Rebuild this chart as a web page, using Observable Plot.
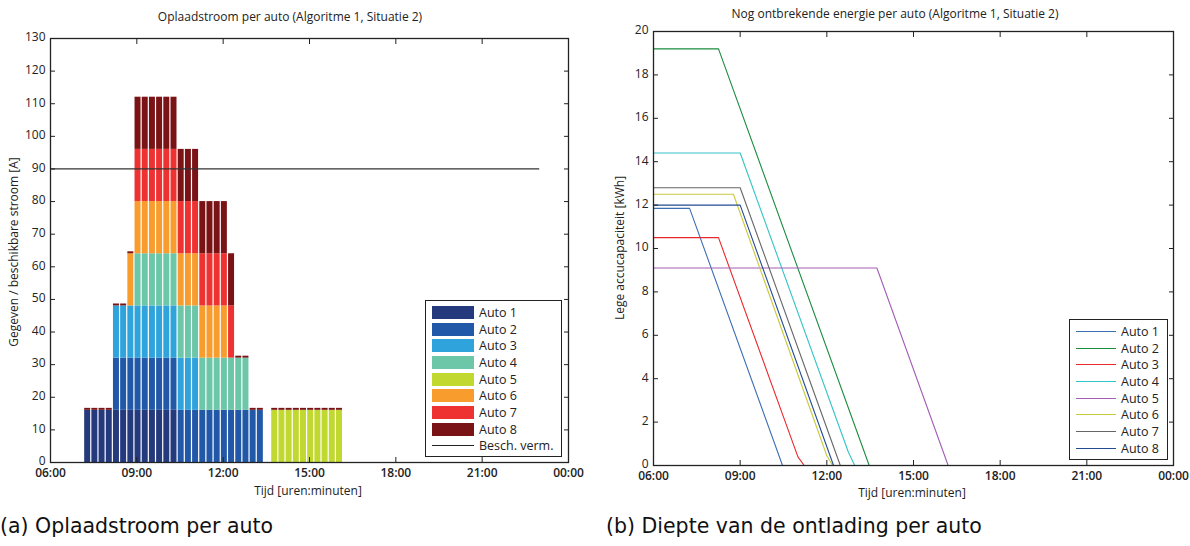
<!DOCTYPE html>
<html><head><meta charset="utf-8">
<script src="https://cdn.jsdelivr.net/npm/d3@7"></script>
<script src="https://cdn.jsdelivr.net/npm/@observablehq/plot@0.6"></script>
<style>
body{margin:0;background:#fff;width:1190px;height:546px;position:relative;overflow:hidden;font-family:"Open Sans",sans-serif;color:#222}
.abs{position:absolute}
.title{font-size:12px;white-space:nowrap;transform:translateX(-50%)}
.xlab{font-size:12px;white-space:nowrap;transform:translateX(-50%)}
.ylab{font-size:12px;white-space:nowrap;transform:translate(-50%,-50%) rotate(-90deg)}
.cap{font-family:"DejaVu Sans",sans-serif;font-size:20.5px;white-space:nowrap;color:#111}
.legend{border:1.5px solid #222;background:#fff;font-size:12.5px;padding:3px 6px 2px 6px}
.row{display:flex;align-items:center;height:16.7px}
.sw{width:42px;height:13px;margin-right:5px}
.ln{width:40px;height:0;margin-right:5px}
</style></head><body>
<div id="left" class="abs" style="left:0;top:0"></div>
<div id="right" class="abs" style="left:595px;top:0"></div>
<div class="abs title" style="left:290px;top:8px">Oplaadstroom per auto (Algoritme 1, Situatie 2)</div>
<div class="abs title" style="left:895px;top:5px">Nog ontbrekende energie per auto (Algoritme 1, Situatie 2)</div>
<div class="abs xlab" style="left:308px;top:482px">Tijd [uren:minuten]</div>
<div class="abs xlab" style="left:912px;top:484px">Tijd [uren:minuten]</div>
<div class="abs ylab" style="left:13px;top:252px">Gegeven / beschikbare stroom [A]</div>
<div class="abs ylab" style="left:619px;top:248px">Lege accucapaciteit [kWh]</div>
<div class="abs cap" style="left:0px;top:514px">(a) Oplaadstroom per auto</div>
<div class="abs cap" style="left:606px;top:514px">(b) Diepte van de ontlading per auto</div>
<div id="legL" class="abs legend" style="left:425px;top:300px;width:123px"></div>
<div id="legR" class="abs legend" style="left:1069px;top:319px;width:85px"></div>
<script>
// ---------- data ----------
const autos = ["Auto 1","Auto 2","Auto 3","Auto 4","Auto 5","Auto 6","Auto 7","Auto 8"];
const barColors = ["#253a7d","#2258a8","#2fa3dc","#6cc6a8","#c0d82f","#f89c2e","#ee3131","#7a1315"];
const lineColors = ["#3c6eb4","#1b8c3f","#e8282a","#35c4c6","#a35db6","#c9c93c","#666666","#234b92"];
const xTickLabels = ["06:00","09:00","12:00","15:00","18:00","21:00","00:00"];
const yTicksLeft = [0,10,20,30,40,50,60,70,80,90,100,110,120,130];
const yTicksRight = [0,2,4,6,8,10,12,14,16,18,20];
const slotMinutes = 15;
const slotStarts = ["07:10","07:25","07:40","07:55","08:10","08:25","08:40","08:55","09:10","09:25","09:40","09:55",
  "10:10","10:25","10:40","10:55","11:10","11:25","11:40","11:55","12:10","12:25","12:40","12:55",
  "13:10","13:25","13:40","13:55","14:10","14:25","14:40","14:55","15:10","15:25","15:40","15:55"];
const currentAuto1 = [16,16,16,16,16,16,16,16,16,16,16,16,16,0,0,0,0,0,0,0,0,0,0,0,0,0,0,0,0,0,0,0,0,0,0,0];
const currentAuto2 = [0,0,0,0,16,16,16,16,16,16,16,16,16,16,16,16,16,16,16,16,16,16,16,16,16,0,0,0,0,0,0,0,0,0,0,0];
const currentAuto3 = [0,0,0,0,16,16,16,16,16,16,16,16,16,16,16,16,0,0,0,0,0,0,0,0,0,0,0,0,0,0,0,0,0,0,0,0];
const currentAuto4 = [0,0,0,0,0,0,0,16,16,16,16,16,16,16,16,16,16,16,16,16,16,16,16,0,0,0,0,0,0,0,0,0,0,0,0,0];
const currentAuto5 = [0,0,0,0,0,0,0,0,0,0,0,0,0,0,0,0,0,0,0,0,0,0,0,0,0,0,16,16,16,16,16,16,16,16,16,16];
const currentAuto6 = [0,0,0,0,0,0,16,16,16,16,16,16,16,16,16,16,16,16,16,16,0,0,0,0,0,0,0,0,0,0,0,0,0,0,0,0];
const currentAuto7 = [0,0,0,0,0,0,0,16,16,16,16,16,16,16,16,16,16,16,16,16,16,0,0,0,0,0,0,0,0,0,0,0,0,0,0,0];
const currentAuto8 = [0.6,0.6,0.6,0.6,0.6,0.6,0.6,16,16,16,16,16,16,16,16,16,16,16,16,16,16,0.6,0.6,0.6,0.6,0,0.6,0.6,0.6,0.6,0.6,0.6,0.6,0.6,0.6,0.6];
const capacity = 90, capacityFrom = "06:00", capacityTo = "23:00";
const energyAuto1 = [["06:00",11.85],["07:15",11.85],["10:28",0],["23:00",0]];
const energyAuto2 = [["06:00",19.2],["08:15",19.2],["13:28",0],["23:00",0]];
const energyAuto3 = [["06:00",10.5],["08:15",10.5],["11:00",0.4],["11:13",0],["23:00",0]];
const energyAuto4 = [["06:00",14.4],["09:00",14.4],["12:45",0.6],["12:58",0],["23:00",0]];
const energyAuto5 = [["06:00",9.1],["13:44",9.1],["16:12",0],["23:00",0]];
const energyAuto6 = [["06:00",12.5],["08:46",12.5],["12:00",0.45],["12:12",0],["23:00",0]];
const energyAuto7 = [["06:00",12.8],["09:00",12.8],["12:28",0],["23:00",0]];
const energyAuto8 = [["06:00",12.0],["09:00",12.0],["12:14",0],["23:00",0]];

// ---------- helpers ----------
const toH = s => { const [h,m] = s.split(":").map(Number); return (h < 6 ? h + 24 : h) + m/60; };
const xTicks = xTickLabels.map(toH);
const fmtX = h => xTickLabels[xTicks.indexOf(h)];
const currents = [currentAuto1,currentAuto2,currentAuto3,currentAuto4,currentAuto5,currentAuto6,currentAuto7,currentAuto8];
const energies = [energyAuto1,energyAuto2,energyAuto3,energyAuto4,energyAuto5,energyAuto6,energyAuto7,energyAuto8];
const barData = [];
slotStarts.forEach((s,i) => currents.forEach((arr,j) => barData.push({t1: toH(s), t2: toH(s) + slotMinutes/60, auto: autos[j], value: arr[i]})));
const lineData = [];
energies.forEach((arr,j) => arr.forEach(([t,v]) => lineData.push({t: toH(t), value: v, auto: autos[j]})));

const font = {fontFamily:'"Open Sans",sans-serif', fontSize:"12px", color:"#222", background:"#fff", overflow:"visible"};
function axes(yTicks){
  return [
    Plot.axisX({anchor:"bottom", ticks:xTicks, tickFormat:fmtX, tickSize:0, tickPadding:6, label:null, fontWeight:600}),
    Plot.axisX({anchor:"bottom", ticks:xTicks, tickFormat:()=>"", tickSize:-5, label:null}),
    Plot.axisX({anchor:"top", ticks:xTicks, tickFormat:()=>"", tickSize:-5, label:null}),
    Plot.axisY({anchor:"left", ticks:yTicks, tickSize:0, tickPadding:5, label:null, dy:-1}),
    Plot.axisY({anchor:"left", ticks:yTicks, tickFormat:()=>"", tickSize:-5, label:null}),
    Plot.axisY({anchor:"right", ticks:yTicks, tickFormat:()=>"", tickSize:-5, label:null}),
    Plot.frame({stroke:"#222", strokeWidth:1.3})
  ];
}

const left = Plot.plot({
  width:580, height:500, marginLeft:50, marginRight:12, marginTop:38, marginBottom:38,
  style:font,
  x:{domain:[toH("06:00"), toH("00:00")]},
  y:{domain:[0,130]},
  color:{domain:autos, range:barColors},
  marks:[
    Plot.ruleY([0], {stroke:"#8a5048", strokeDasharray:"4,2"}),
    Plot.rectY(barData, Plot.stackY({x1:"t1", x2:"t2", y:"value", fill:"auto", order:autos, insetLeft:0.6, insetRight:0.6})),
    Plot.ruleY([capacity], {x1:toH(capacityFrom), x2:toH(capacityTo), stroke:"#333", strokeWidth:1.2}),
    ...axes(yTicksLeft)
  ]
});
document.getElementById("left").appendChild(left);

const right = Plot.plot({
  width:590, height:500, marginLeft:58, marginRight:12, marginTop:31, marginBottom:35,
  style:font,
  x:{domain:[toH("06:00"), toH("00:00")]},
  y:{domain:[0,20]},
  color:{domain:autos, range:lineColors},
  marks:[
    Plot.line(lineData, {x:"t", y:"value", z:"auto", stroke:"auto", strokeWidth:1.1}),
    ...axes(yTicksRight)
  ]
});
document.getElementById("right").appendChild(right);

// legends
const legL = document.getElementById("legL");
autos.forEach((a,i) => legL.insertAdjacentHTML("beforeend", `<div class="row"><div class="sw" style="background:${barColors[i]}"></div>${a}</div>`));
legL.insertAdjacentHTML("beforeend", `<div class="row"><div class="ln" style="border-top:1.5px solid #222;width:42px"></div>Besch. verm.</div>`);
const legR = document.getElementById("legR");
autos.forEach((a,i) => legR.insertAdjacentHTML("beforeend", `<div class="row"><div class="ln" style="border-top:1.5px solid ${lineColors[i]}"></div>${a}</div>`));
</script>
</body></html>
